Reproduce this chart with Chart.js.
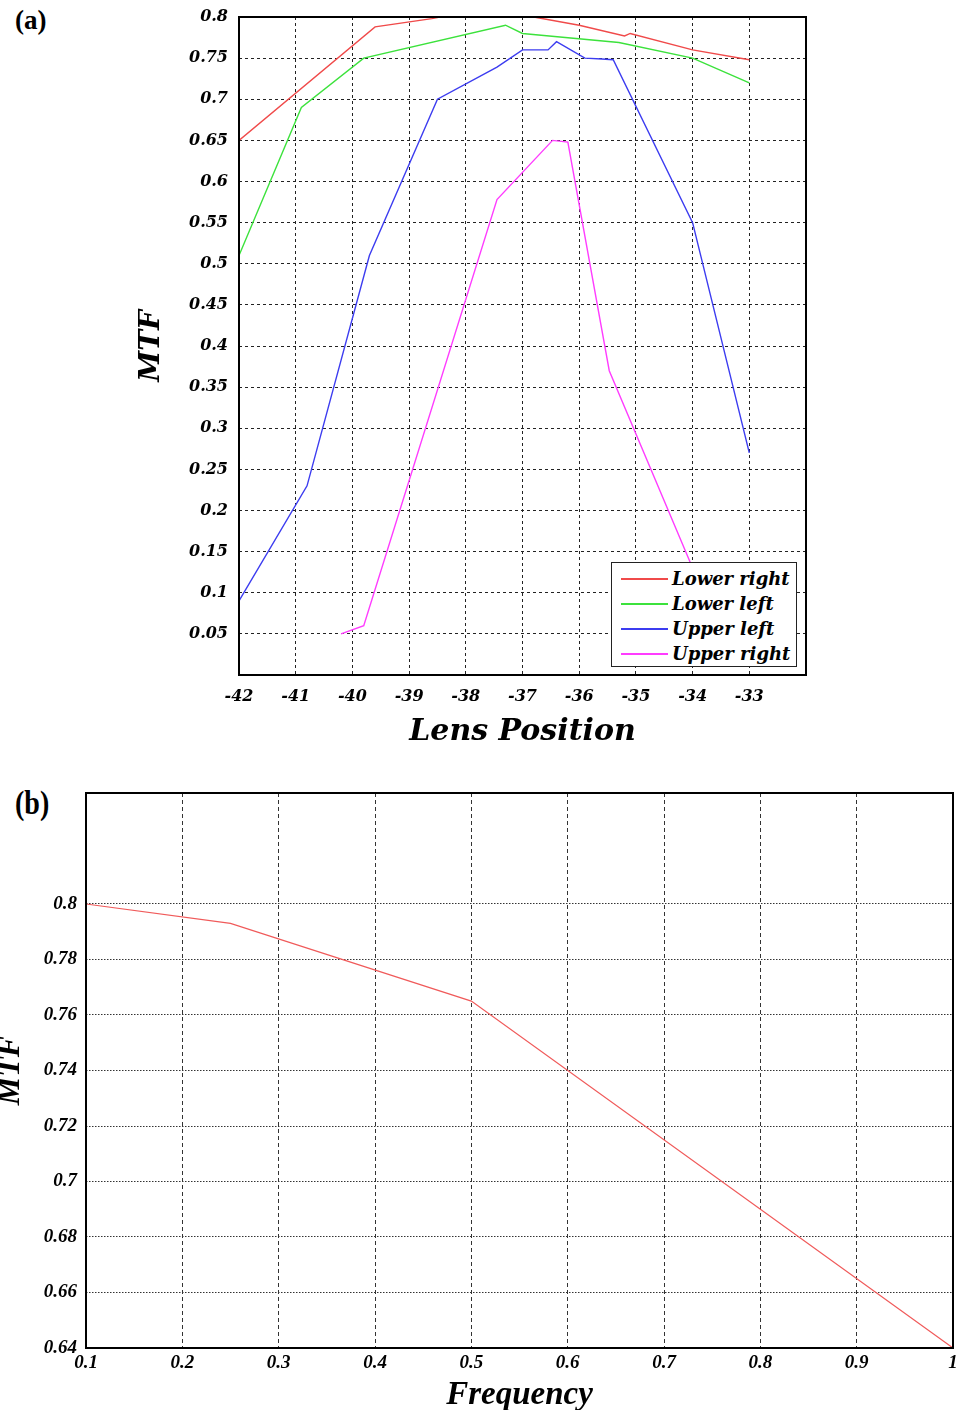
<!DOCTYPE html>
<html>
<head>
<meta charset="utf-8">
<script src="https://cdn.jsdelivr.net/npm/chart.js@4.4.0/dist/chart.umd.min.js"></script>
<style>
  body { margin: 0; width: 967px; height: 1410px; background: #fff; position: relative; overflow: hidden; }
  .box { position: absolute; left: 0; width: 967px; }
  .tag { position: absolute; left: 15px; font-family: "Liberation Serif", serif; font-weight: bold; color: #000; line-height: 1; }
  #legendA { position: absolute; left: 611px; top: 562px; width: 184px; height: 103px; border: 1.5px solid #222; background: #fff; }
  #legendA .row { position: absolute; left: 0; height: 24px; width: 184px; }
  #legendA .swatch { position: absolute; left: 9px; top: 11px; width: 47px; height: 1.5px; }
  #legendA .lbl { position: absolute; left: 60px; top: 1px; font: italic bold 18px "DejaVu Serif", serif; color: #000; white-space: nowrap; }
</style>
</head>
<body>
<div class="tag" style="top:7px;font-size:27px;">(a)</div>
<div class="box" style="top:0;height:760px;"><canvas id="chartA"></canvas></div>
<div id="legendA"></div>
<div class="tag" style="top:787px;font-size:33px;transform:scaleX(0.85);transform-origin:left;">(b)</div>
<div class="box" style="top:780px;height:630px;"><canvas id="chartB"></canvas></div>
<script>
// (a) MTF vs lens position
const lensTicks = [-42, -41, -40, -39, -38, -37, -36, -35, -34, -33];
const mtfTicksA = [0.05, 0.1, 0.15, 0.2, 0.25, 0.3, 0.35, 0.4, 0.45, 0.5, 0.55, 0.6, 0.65, 0.7, 0.75, 0.8];

const lowerRightX = [-42, -39.6, -38.6, -37.7, -36.8, -36, -35.2, -35.1, -34, -33];
const lowerRightY = [0.65, 0.788, 0.798, 0.81, 0.8, 0.79, 0.777, 0.78, 0.76, 0.748];
const lowerLeftX = [-42, -40.9, -39.8, -37.3, -37, -35.3, -34, -33];
const lowerLeftY = [0.51, 0.69, 0.75, 0.79, 0.78, 0.769, 0.75, 0.72];
const upperLeftX = [-42, -40.8, -39.7, -38.5, -37.45, -37, -36.55, -36.4, -35.9, -35.6, -35.4, -34, -33];
const upperLeftY = [0.09, 0.23, 0.51, 0.70, 0.739, 0.76, 0.76, 0.77, 0.75, 0.749, 0.748, 0.55, 0.27];
const upperRightX = [-40.2, -39.8, -37.45, -36.47, -36.2, -35.47, -34];
const upperRightY = [0.05, 0.06, 0.578, 0.65, 0.648, 0.37, 0.13];

const seriesNames = ['Lower right', 'Lower left', 'Upper left', 'Upper right'];
const seriesColors = ['#f04a4a', '#3ce23c', '#3c3cf0', '#ff3cff'];

// (b) MTF vs frequency
const freqTicks = [0.1, 0.2, 0.3, 0.4, 0.5, 0.6, 0.7, 0.8, 0.9, 1];
const mtfTicksB = [0.64, 0.66, 0.68, 0.7, 0.72, 0.74, 0.76, 0.78, 0.8];
const freqX = [0.1, 0.25, 0.5, 1];
const freqY = [0.8, 0.793, 0.765, 0.64];

function pts(xs, ys) {
  return xs.map((x, i) => ({ x: x, y: ys[i] }));
}

const fontA = size => ({ family: '"DejaVu Serif", serif', size: size, weight: 'bold', style: 'italic' });
const fontB = size => ({ family: '"Liberation Serif", serif', size: size, weight: 'bold', style: 'italic' });

// fixed widths so the plot area lands where the original has it
const fixY = w => s => { s.width = w; s.paddingTop = 0; s.paddingBottom = 0; };
const fixX = h => s => { s.height = h; s.paddingLeft = 0; s.paddingRight = 0; };

// box round the plot area
const frame = {
  id: 'frame',
  afterDatasetsDraw(chart) {
    const { ctx, chartArea: a } = chart;
    ctx.save();
    ctx.strokeStyle = '#000';
    ctx.lineWidth = 2;
    ctx.strokeRect(a.left, a.top, a.right - a.left, a.bottom - a.top);
    ctx.restore();
  }
};

const xsA = [lowerRightX, lowerLeftX, upperLeftX, upperRightX];
const ysA = [lowerRightY, lowerLeftY, upperLeftY, upperRightY];

new Chart(document.getElementById('chartA'), {
  type: 'line',
  data: {
    datasets: seriesNames.map((name, i) => ({
      label: name,
      data: pts(xsA[i], ysA[i]),
      borderColor: seriesColors[i],
      borderWidth: 1.4,
      pointRadius: 0,
      tension: 0,
      fill: false
    }))
  },
  plugins: [frame],
  options: {
    responsive: true,
    maintainAspectRatio: false,
    animation: false,
    layout: { padding: { left: 135, top: 17, right: 161, bottom: 10 } },
    plugins: { legend: { display: false }, tooltip: { enabled: false } },
    scales: {
      x: {
        type: 'linear', min: -42, max: -32,
        afterBuildTicks: s => { s.ticks = lensTicks.map(v => ({ value: v })); },
        afterFit: fixX(75),
        ticks: { padding: 12, color: '#000', font: fontA(16), maxRotation: 0, autoSkip: false, callback: v => String(v) },
        grid: { color: '#222', lineWidth: 1, drawTicks: false },
        border: { display: false, dash: [3, 3] },
        title: { display: true, text: 'Lens Position', color: '#000', font: fontA(30), padding: 0 }
      },
      y: {
        type: 'linear', min: 0, max: 0.8,
        afterBuildTicks: s => { s.ticks = mtfTicksA.map(v => ({ value: v })); },
        afterFit: fixY(104),
        ticks: { padding: 11, color: '#000', font: fontA(16), autoSkip: false, callback: v => String(+v.toFixed(2)) },
        grid: { color: '#222', lineWidth: 1, drawTicks: false },
        border: { display: false, dash: [3, 3] },
        title: { display: true, text: 'MTF', color: '#000', font: fontA(28), padding: 0 }
      }
    }
  }
});

// html legend for (a), opaque like the original
const legendA = document.getElementById('legendA');
seriesNames.forEach((name, i) => {
  const row = document.createElement('div');
  row.className = 'row';
  row.style.top = (4 + i * 25) + 'px';
  row.innerHTML = `<div class="swatch" style="background:${seriesColors[i]}"></div><div class="lbl">${name}</div>`;
  legendA.appendChild(row);
});

new Chart(document.getElementById('chartB'), {
  type: 'line',
  data: {
    datasets: [{
      label: 'MTF',
      data: pts(freqX, freqY),
      borderColor: '#f05a5a',
      borderWidth: 1.2,
      pointRadius: 0,
      tension: 0,
      fill: false
    }]
  },
  plugins: [frame],
  options: {
    responsive: true,
    maintainAspectRatio: false,
    animation: false,
    layout: { padding: { left: 0, top: 13, right: 14, bottom: 0 } },
    plugins: { legend: { display: false }, tooltip: { enabled: false } },
    scales: {
      x: {
        type: 'linear', min: 0.1, max: 1,
        afterBuildTicks: s => { s.ticks = freqTicks.map(v => ({ value: v })); },
        afterFit: fixX(62),
        ticks: { padding: 4, color: '#000', font: fontB(19), maxRotation: 0, autoSkip: false, callback: v => String(+v.toFixed(1)) },
        grid: { color: '#333', lineWidth: 1, drawTicks: false },
        border: { display: false, dash: [4, 3] },
        title: { display: true, text: 'Frequency', color: '#000', font: fontB(33), padding: { top: 0, bottom: -5 } }
      },
      y: {
        type: 'linear', min: 0.64, max: 0.84,
        afterBuildTicks: s => { s.ticks = mtfTicksB.map(v => ({ value: v })); },
        afterFit: fixY(86),
        ticks: { padding: 9, color: '#000', font: fontB(19), autoSkip: false, callback: v => String(+v.toFixed(2)) },
        grid: { color: '#333', lineWidth: 1, drawTicks: false },
        border: { display: false, dash: [1.5, 1.5] },
        title: { display: true, text: 'MTF', color: '#000', font: fontB(32), padding: { top: -8, bottom: 0 } }
      }
    }
  }
});
</script>
</body>
</html>
